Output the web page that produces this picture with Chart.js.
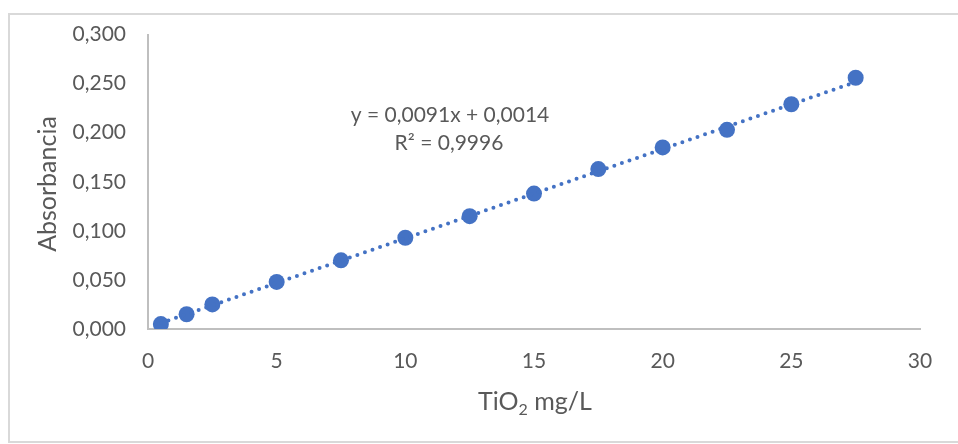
<!DOCTYPE html>
<html lang="es">
<head>
  <meta charset="UTF-8" />
  <title>Curva de calibración TiO2</title>
  <script src="https://cdn.jsdelivr.net/npm/chart.js"></script>
  <style>
    html, body { margin: 0; padding: 0; background: #fff; overflow: hidden; }
    #frame { position: absolute; left: 8px; top: 13px; width: 970px; height: 426px; border: 2px solid #d9d9d9; }
    #wrap { position: absolute; left: 0; top: 0; width: 958px; height: 444px; }
  </style>
</head>
<body>
  <div id="frame"></div>
  <div id="wrap"><canvas id="calChart"></canvas></div>

  <script>
    // Datos
    const concentracion = [0.5, 1.5, 2.5, 5, 7.5, 10, 12.5, 15, 17.5, 20, 22.5, 25, 27.5];
    const absorbancia = [0.005, 0.015, 0.025, 0.048, 0.070, 0.093, 0.115, 0.138, 0.163, 0.185, 0.203, 0.229, 0.256];

    // Línea de tendencia (extremos)
    const trendX = [0.5, 27.5];
    const trendY = [0.0060, 0.2517];
    const ecuacion = ['y = 0,0091x + 0,0014', 'R² = 0,9996'];

    const xTicks = [0, 5, 10, 15, 20, 25, 30];
    const yTicks = [0, 0.05, 0.1, 0.15, 0.2, 0.25, 0.3];

    const azul = '#4472C4';
    const gris = '#595959';
    const fuente = "Lato, 'Open Sans', sans-serif";

    // Títulos de ejes y ecuación dibujados a mano
    const textos = {
      id: 'textos',
      afterDraw(chart) {
        const c = chart.ctx;
        c.save();
        c.fillStyle = gris;
        c.textAlign = 'center';
        c.textBaseline = 'middle';
        c.font = '21px ' + fuente;
        c.fillText(ecuacion[0], 450, 115);
        c.fillText(ecuacion[1], 449, 143);

        c.font = '25px ' + fuente;
        // TiO2 mg/L con subíndice
        const a = 'TiO', sub = '2', b = ' mg/L';
        const wa = c.measureText(a).width, wb = c.measureText(b).width;
        c.font = '16px ' + fuente;
        const ws = c.measureText(sub).width;
        let x0 = 535 - (wa + ws + wb) / 2;
        c.textAlign = 'left';
        c.font = '25px ' + fuente;
        c.fillText(a, x0, 402);
        c.font = '16px ' + fuente;
        c.fillText(sub, x0 + wa, 410);
        c.font = '25px ' + fuente;
        c.fillText(b, x0 + wa + ws, 402);

        c.translate(48, 184);
        c.rotate(-Math.PI / 2);
        c.textAlign = 'center';
        c.fillText('Absorbancia', 0, 0);
        c.restore();
      }
    };

    new Chart(document.getElementById('calChart'), {
      type: 'scatter',
      data: {
        datasets: [
          {
            label: 'Tendencia',
            data: trendX.map((x, i) => ({ x: x, y: trendY[i] })),
            showLine: true,
            borderColor: azul,
            borderWidth: 4,
            borderDash: [0, 8],
            borderCapStyle: 'round',
            pointRadius: 0,
            order: 1
          },
          {
            label: 'Absorbancia',
            data: concentracion.map((x, i) => ({ x: x, y: absorbancia[i] })),
            backgroundColor: azul,
            borderColor: azul,
            pointRadius: 8,
            borderWidth: 0,
            order: 2
          }
        ]
      },
      options: {
        responsive: true,
        maintainAspectRatio: false,
        animation: false,
        layout: { padding: { left: 0, right: 38, top: 34, bottom: 0 } },
        plugins: { legend: { display: false }, tooltip: { enabled: false } },
        scales: {
          x: {
            type: 'linear',
            min: 0, max: 30,
            afterBuildTicks: s => { s.ticks = xTicks.map(v => ({ value: v })); },
            afterFit: s => { s.height = 115; },
            grid: { display: false, drawTicks: false },
            border: { display: true, color: '#bfbfbf', width: 2 },
            ticks: { color: gris, font: { family: fuente, size: 21 }, padding: 20 }
          },
          y: {
            type: 'linear',
            min: 0, max: 0.3,
            afterBuildTicks: s => { s.ticks = yTicks.map(v => ({ value: v })); },
            afterFit: s => { s.width = 148; },
            grid: { display: false, drawTicks: false },
            border: { display: true, color: '#bfbfbf', width: 2 },
            ticks: {
              color: gris, font: { family: fuente, size: 21 }, padding: 22,
              callback: v => v.toFixed(3).replace('.', ',')
            }
          }
        }
      },
      plugins: [textos]
    });
  </script>
</body>
</html>
